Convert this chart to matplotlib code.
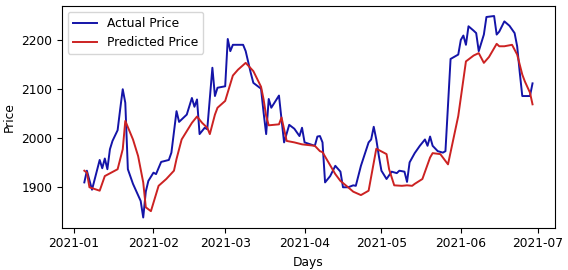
import matplotlib
matplotlib.use("Agg")
import matplotlib.pyplot as plt
import matplotlib.dates as mdates
import pandas as pd

actual_dates = [
    "2021-01-05", "2021-01-06", "2021-01-08", "2021-01-11", "2021-01-12", "2021-01-13",
    "2021-01-14", "2021-01-15", "2021-01-16", "2021-01-18", "2021-01-19", "2021-01-20",
    "2021-01-21", "2021-01-22", "2021-01-24", "2021-01-27", "2021-01-28", "2021-01-29",
    "2021-01-30", "2021-02-01", "2021-02-02", "2021-02-04", "2021-02-07", "2021-02-08",
    "2021-02-10", "2021-02-11", "2021-02-14", "2021-02-16", "2021-02-17", "2021-02-18",
    "2021-02-19", "2021-02-21", "2021-02-22", "2021-02-24", "2021-02-25", "2021-02-26",
    "2021-02-27", "2021-03-01", "2021-03-02", "2021-03-03", "2021-03-04", "2021-03-08",
    "2021-03-09", "2021-03-11", "2021-03-12", "2021-03-15", "2021-03-16", "2021-03-17",
    "2021-03-18", "2021-03-19", "2021-03-22", "2021-03-23", "2021-03-24", "2021-03-26",
    "2021-03-28", "2021-03-30", "2021-03-31", "2021-04-01", "2021-04-05", "2021-04-06",
    "2021-04-07", "2021-04-08", "2021-04-09", "2021-04-11", "2021-04-13", "2021-04-15",
    "2021-04-16", "2021-04-18", "2021-04-20", "2021-04-21", "2021-04-23", "2021-04-26",
    "2021-04-27", "2021-04-28", "2021-04-29", "2021-04-30", "2021-05-01", "2021-05-03",
    "2021-05-05", "2021-05-07", "2021-05-08", "2021-05-10", "2021-05-11", "2021-05-12",
    "2021-05-14", "2021-05-16", "2021-05-18", "2021-05-19", "2021-05-20", "2021-05-21",
    "2021-05-23", "2021-05-25", "2021-05-26", "2021-05-28", "2021-05-31", "2021-06-01",
    "2021-06-02", "2021-06-03", "2021-06-04", "2021-06-06", "2021-06-07", "2021-06-08",
    "2021-06-10", "2021-06-11", "2021-06-14", "2021-06-15", "2021-06-16", "2021-06-18",
    "2021-06-20", "2021-06-22", "2021-06-23", "2021-06-24", "2021-06-25", "2021-06-28",
    "2021-06-29",
]
actual_price = [
    1909, 1933, 1894, 1955, 1938, 1958,
    1936, 1977, 1994, 2016, 2059, 2100,
    2072, 1936, 1906, 1871, 1837, 1890,
    1912, 1929, 1926, 1951, 1955, 1970,
    2055, 2033, 2048, 2082, 2064, 2079,
    2008, 2021, 2018, 2144, 2086, 2103,
    2104, 2106, 2203, 2178, 2191, 2191,
    2178, 2133, 2113, 2101, 2052, 2008,
    2080, 2062, 2087, 2038, 1991, 2027,
    2019, 2004, 2021, 1991, 1984, 2003,
    2004, 1991, 1909, 1922, 1943, 1931,
    1899, 1899, 1903, 1902, 1943, 1991,
    1997, 2023, 1997, 1963, 1933, 1916,
    1931, 1928, 1933, 1931, 1910, 1950,
    1969, 1984, 1997, 1984, 2003, 1984,
    1973, 1970, 1973, 2162, 2171, 2201,
    2210, 2191, 2229, 2220, 2215, 2178,
    2212, 2248, 2250, 2212, 2218, 2239,
    2230, 2215, 2188, 2135, 2086, 2086,
    2112,
]

pred_dates = [
    "2021-01-05", "2021-01-06", "2021-01-07", "2021-01-11", "2021-01-13", "2021-01-18",
    "2021-01-20", "2021-01-21", "2021-01-24", "2021-01-26", "2021-01-28", "2021-01-29",
    "2021-01-31", "2021-02-03", "2021-02-06", "2021-02-09", "2021-02-10", "2021-02-12",
    "2021-02-14", "2021-02-16", "2021-02-18", "2021-02-20", "2021-02-22", "2021-02-23",
    "2021-02-25", "2021-02-26", "2021-03-01", "2021-03-04", "2021-03-06", "2021-03-09",
    "2021-03-12", "2021-03-15", "2021-03-16", "2021-03-17", "2021-03-18", "2021-03-22",
    "2021-03-23", "2021-03-25", "2021-03-28", "2021-03-31", "2021-04-05", "2021-04-07",
    "2021-04-08", "2021-04-10", "2021-04-13", "2021-04-15", "2021-04-18", "2021-04-20",
    "2021-04-23", "2021-04-26", "2021-04-29", "2021-05-03", "2021-05-04", "2021-05-06",
    "2021-05-09", "2021-05-11", "2021-05-13", "2021-05-14", "2021-05-17", "2021-05-20",
    "2021-05-21", "2021-05-24", "2021-05-27", "2021-05-31", "2021-06-03", "2021-06-06",
    "2021-06-08", "2021-06-10", "2021-06-12", "2021-06-15", "2021-06-16", "2021-06-18",
    "2021-06-21", "2021-06-23", "2021-06-25", "2021-06-26", "2021-06-28", "2021-06-29",
]
pred_price = [
    1933, 1929, 1899, 1892, 1922, 1936,
    1977, 2035, 1997, 1963, 1909, 1858,
    1850, 1902, 1916, 1933, 1957, 1997,
    2014, 2031, 2044, 2031, 2021, 2008,
    2048, 2062, 2076, 2128, 2140, 2154,
    2137, 2105, 2079, 2045, 2026, 2028,
    2042, 1994, 1991, 1987, 1984, 1973,
    1971, 1953, 1926, 1912, 1899, 1890,
    1883, 1892, 1978, 1967, 1936, 1903,
    1902, 1903, 1902, 1906, 1916, 1960,
    1969, 1967, 1946, 2045, 2157, 2169,
    2174, 2154, 2166, 2193, 2188, 2188,
    2191, 2171, 2130, 2116, 2093, 2069,
]

plt.rcParams['font.size'] = 8.8

fig = plt.figure(figsize=(5.68, 2.7), dpi=100)
ax = fig.add_axes([0.109, 0.157, 0.868, 0.821])

ax.plot(pd.to_datetime(actual_dates), actual_price, color='#1414a8', lw=1.4, label='Actual Price')
ax.plot(pd.to_datetime(pred_dates), pred_price, color='#cc2222', lw=1.4, label='Predicted Price')

ax.xaxis.set_major_locator(mdates.MonthLocator())
ax.xaxis.set_major_formatter(mdates.DateFormatter('%Y-%m'))
ax.set_xlabel('Days')
ax.set_ylabel('Price')
ax.set_yticks([1900, 2000, 2100, 2200])
ax.legend(loc='upper left')

fig.savefig('out.png', dpi=100)
